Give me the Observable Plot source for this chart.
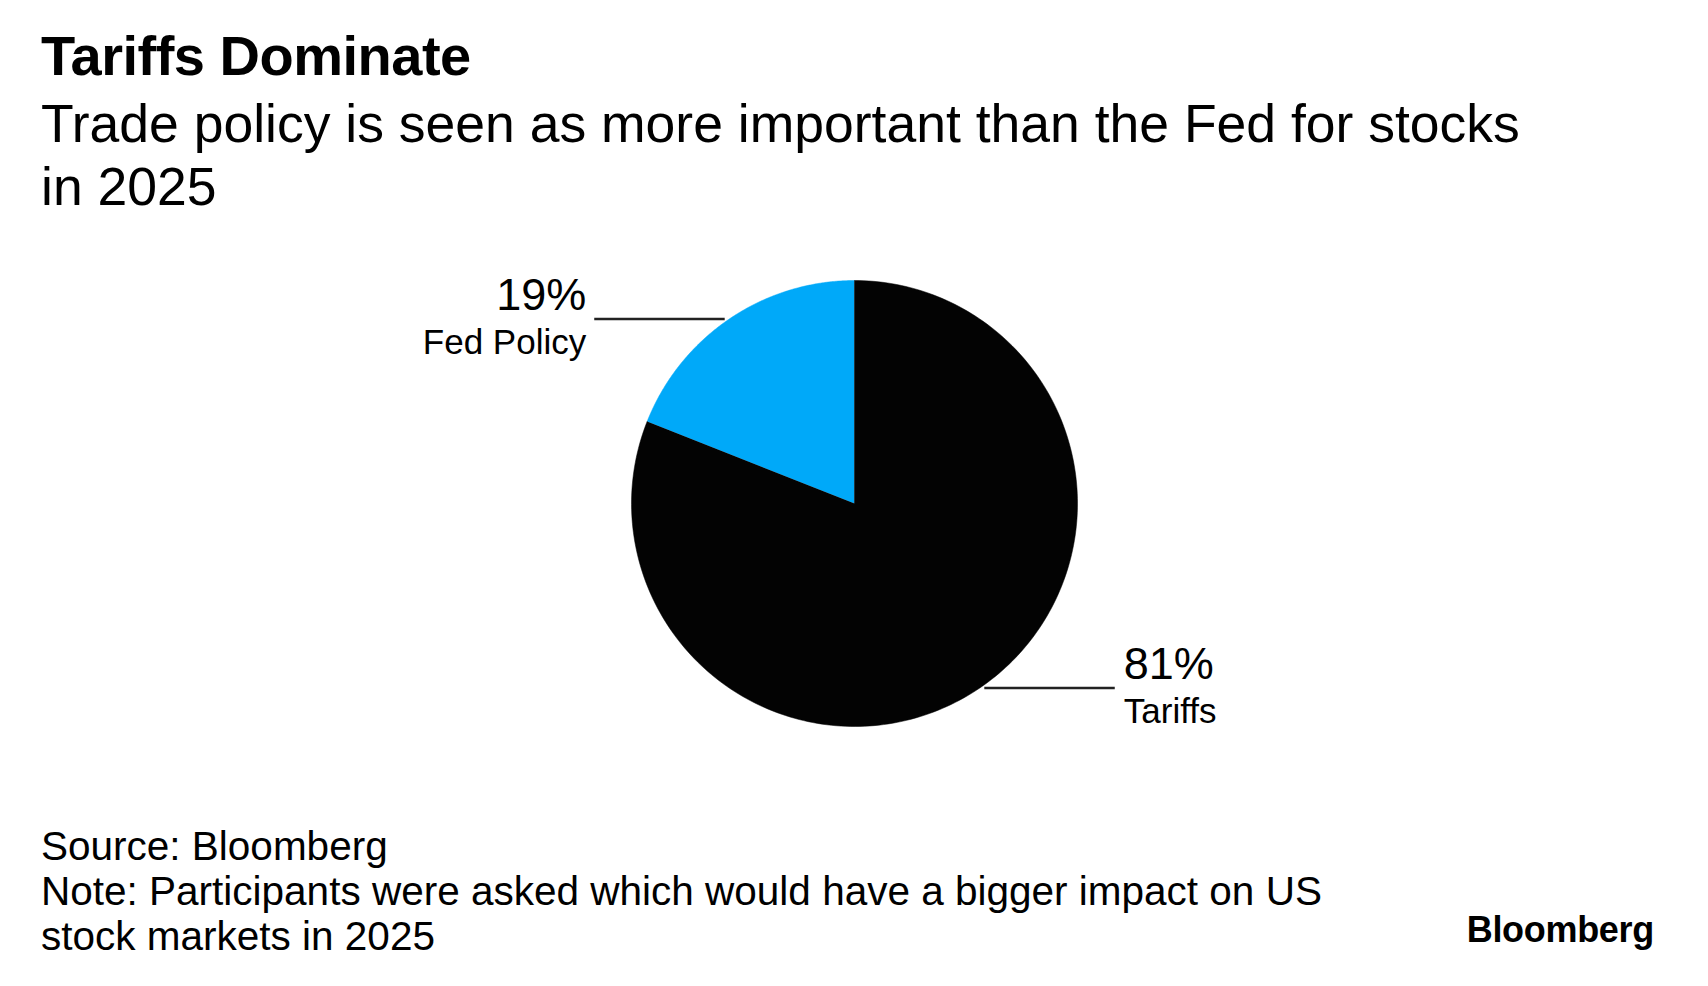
<!DOCTYPE html>
<html>
<head>
<meta charset="utf-8">
<script src="https://cdn.jsdelivr.net/npm/d3@7"></script>
<script src="https://cdn.jsdelivr.net/npm/@observablehq/plot@0.6"></script>
<style>
  html, body { margin: 0; padding: 0; background: #fff; }
  body { width: 1708px; height: 986px; position: relative; font-family: "Liberation Sans", Arial, sans-serif; color: #000; overflow: hidden; }
  #title { padding: 26px 0 0 41px; font-size: 56px; line-height: 60px; font-weight: bold; letter-spacing: -0.5px; }
  #subtitle { margin-top: 6px; padding-left: 41px; font-size: 53.5px; line-height: 63px; width: 1640px; }
  #chart svg { display: block; }
  #footer { padding-left: 41px; font-size: 40.5px; line-height: 45px; }
  #logo { position: absolute; right: 54px; top: 907px; font-size: 36px; font-weight: bold; line-height: 45px; letter-spacing: -0.3px; }
</style>
</head>
<body>
<div id="title">Tariffs Dominate</div>
<div id="subtitle">Trade policy is seen as more important than the Fed for stocks<br>in 2025</div>
<div id="chart"></div>
<div id="footer">Source: Bloomberg<br>Note: Participants were asked which would have a bigger impact on US<br>stock markets in 2025</div>
<div id="logo">Bloomberg</div>
<script>
// Data
const categories = ["Fed Policy", "Tariffs"];
const shares = [19, 81];
const valueLabels = ["19%", "81%"];
const colors = ["#00a9f9", "#030303"];

// Pie geometry: Tariffs clockwise from 12 o'clock, Fed Policy fills the rest up to 12 o'clock
const total = d3.sum(shares);
const tariffEnd = shares[1] / total * 2 * Math.PI;
const ranges = {"Tariffs": [0, tariffEnd], "Fed Policy": [tariffEnd, 2 * Math.PI]};
const slices = categories.map((c, i) => {
  const [a0, a1] = ranges[c];
  return {category: c, value: shares[i], label: valueLabels[i], color: colors[i], a0, a1, mid: (a0 + a1) / 2};
});
const polyPts = [];
for (const s of slices) {
  polyPts.push({category: s.category, x: 0, y: 0});
  const n = 240;
  for (let k = 0; k <= n; k++) {
    const a = s.a0 + (s.a1 - s.a0) * k / n;
    polyPts.push({category: s.category, x: Math.sin(a), y: Math.cos(a)});
  }
}
// Leader lines: horizontal, from just outside the slice's mid-angle point outward
const leaderLen = 0.585, leaderGap = 0.02;
const leaders = slices.map(s => {
  const x0 = Math.sin(s.mid), y0 = Math.cos(s.mid);
  const dir = x0 < 0 ? -1 : 1;
  const xs = x0 + dir * leaderGap;
  return {...s, x1: xs, y1: y0, x2: xs + dir * leaderLen, y2: y0, dir};
});
const left = leaders.filter(d => d.dir < 0), right = leaders.filter(d => d.dir > 0);

const R = 223, cx = 854, cy = 285;
const W = 1708, H = 606;
const font = "Liberation Sans, Arial, sans-serif";
const plot = Plot.plot({
  width: W,
  height: H,
  margin: 0,
  x: {domain: [-1, 1], range: [cx - R, cx + R], axis: null},
  y: {domain: [-1, 1], range: [cy + R, cy - R], axis: null},
  color: {domain: categories, range: colors},
  style: {fontFamily: font, background: "white", overflow: "visible"},
  marks: [
    Plot.line(polyPts, {x: "x", y: "y", z: "category", fill: "category", stroke: "category", strokeWidth: 0.5, curve: "linear"}),
    Plot.link(leaders, {x1: "x1", y1: "y1", x2: "x2", y2: "y2", stroke: "#222", strokeWidth: 2.5}),
    Plot.text(left, {x: "x2", y: "y2", text: "label", fontSize: 45, fill: "#000", textAnchor: "end", dx: -8, dy: -9, lineAnchor: "bottom"}),
    Plot.text(left, {x: "x2", y: "y2", text: "category", fontSize: 35, fill: "#000", textAnchor: "end", dx: -8, dy: 35, lineAnchor: "bottom"}),
    Plot.text(right, {x: "x2", y: "y2", text: "label", fontSize: 45, fill: "#000", textAnchor: "start", dx: 9, dy: -9, lineAnchor: "bottom"}),
    Plot.text(right, {x: "x2", y: "y2", text: "category", fontSize: 35, fill: "#000", textAnchor: "start", dx: 9, dy: 35, lineAnchor: "bottom"})
  ]
});
document.getElementById("chart").appendChild(plot);
</script>
</body>
</html>
